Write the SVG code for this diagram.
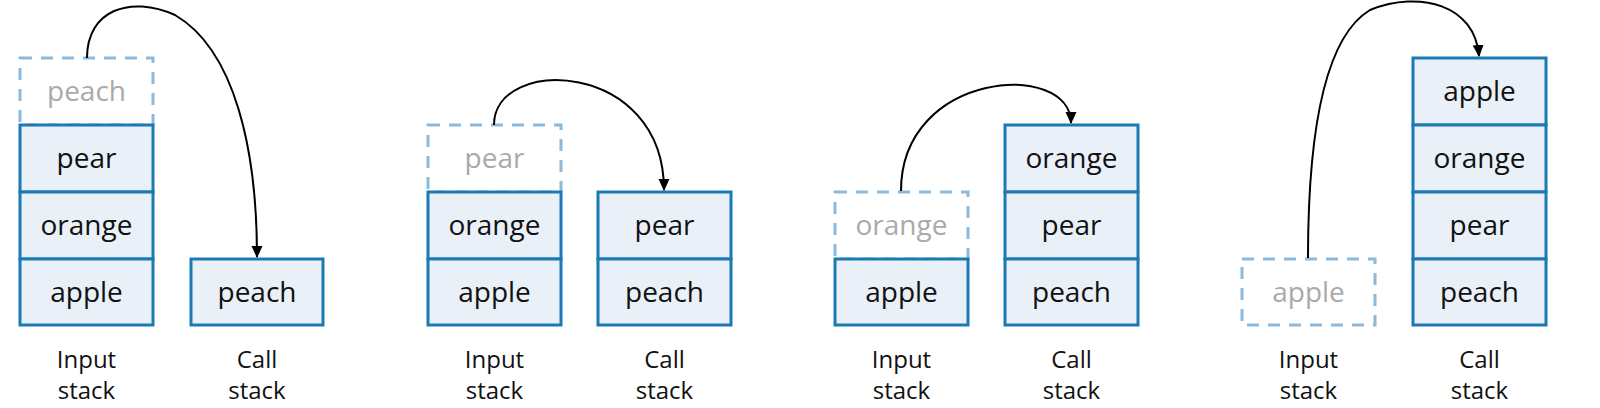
<svg xmlns="http://www.w3.org/2000/svg" width="1600" height="408" viewBox="0 0 1600 408">
<style>
.b{fill:#e9f0f8;stroke:#1a7ab4;stroke-width:3}
.d{fill:#fff;stroke:#8db9da;stroke-width:3;stroke-dasharray:12 9}
.t{font-family:"Open Sans",sans-serif;font-size:28px;text-anchor:middle;fill:#111}
.g{fill:#aaa}
.l{font-family:"Open Sans",sans-serif;font-size:24px;text-anchor:middle;fill:#111}
.c{fill:none;stroke:#000;stroke-width:2;marker-end:url(#a)}
</style>
<defs><marker id="a" markerWidth="12" markerHeight="12" refX="11" refY="6" orient="auto" markerUnits="userSpaceOnUse"><path d="M0,0.5L12,6L0,11.5z"/></marker></defs>
<rect width="1600" height="408" fill="#fff"/>
<g id="p1">
<rect class="d" x="20" y="58" width="133" height="67"/><text class="t g" x="86.5" y="101">peach</text>
<rect class="b" x="20" y="125" width="133" height="67"/><text class="t" x="86.5" y="168">pear</text>
<rect class="b" x="20" y="192" width="133" height="67"/><text class="t" x="86.5" y="235">orange</text>
<rect class="b" x="20" y="259" width="133" height="66"/><text class="t" x="86.5" y="302">apple</text>
<rect class="b" x="191" y="259" width="132" height="66"/><text class="t" x="257" y="302">peach</text>
<text class="l" x="86.5" y="368">Input</text><text class="l" x="86.5" y="399">stack</text>
<text class="l" x="257" y="368">Call</text><text class="l" x="257" y="399">stack</text>
</g>
<g id="p2">
<rect class="d" x="428" y="125" width="133" height="67"/><text class="t g" x="494.5" y="168">pear</text>
<rect class="b" x="428" y="192" width="133" height="67"/><text class="t" x="494.5" y="235">orange</text>
<rect class="b" x="428" y="259" width="133" height="66"/><text class="t" x="494.5" y="302">apple</text>
<rect class="b" x="598" y="192" width="133" height="67"/><text class="t" x="664.5" y="235">pear</text>
<rect class="b" x="598" y="259" width="133" height="66"/><text class="t" x="664.5" y="302">peach</text>
<text class="l" x="494.5" y="368">Input</text><text class="l" x="494.5" y="399">stack</text>
<text class="l" x="664.5" y="368">Call</text><text class="l" x="664.5" y="399">stack</text>
</g>
<g id="p3">
<rect class="d" x="835" y="192" width="133" height="67"/><text class="t g" x="901.5" y="235">orange</text>
<rect class="b" x="835" y="259" width="133" height="66"/><text class="t" x="901.5" y="302">apple</text>
<rect class="b" x="1005" y="125" width="133" height="67"/><text class="t" x="1071.5" y="168">orange</text>
<rect class="b" x="1005" y="192" width="133" height="67"/><text class="t" x="1071.5" y="235">pear</text>
<rect class="b" x="1005" y="259" width="133" height="66"/><text class="t" x="1071.5" y="302">peach</text>
<text class="l" x="901.5" y="368">Input</text><text class="l" x="901.5" y="399">stack</text>
<text class="l" x="1071.5" y="368">Call</text><text class="l" x="1071.5" y="399">stack</text>
</g>
<g id="p4">
<rect class="d" x="1242" y="259" width="133" height="66"/><text class="t g" x="1308.5" y="302">apple</text>
<rect class="b" x="1413" y="58" width="133" height="67"/><text class="t" x="1479.5" y="101">apple</text>
<rect class="b" x="1413" y="125" width="133" height="67"/><text class="t" x="1479.5" y="168">orange</text>
<rect class="b" x="1413" y="192" width="133" height="67"/><text class="t" x="1479.5" y="235">pear</text>
<rect class="b" x="1413" y="259" width="133" height="66"/><text class="t" x="1479.5" y="302">peach</text>
<text class="l" x="1308.5" y="368">Input</text><text class="l" x="1308.5" y="399">stack</text>
<text class="l" x="1479.5" y="368">Call</text><text class="l" x="1479.5" y="399">stack</text>
</g>
<g id="connectors">
<path class="c" d="M87,58 C87,10 130,-5 175,15 C235,50 257,150 257,257"/>
<path class="c" d="M494,125 C494,55 664,60 664,190"/>
<path class="c" d="M901,191 C901,70 1071,60 1071,123"/>
<path class="c" d="M1308,258 C1308,150 1320,40 1370,10 C1420,-10 1475,5 1479,56"/>
</g>
</svg>
